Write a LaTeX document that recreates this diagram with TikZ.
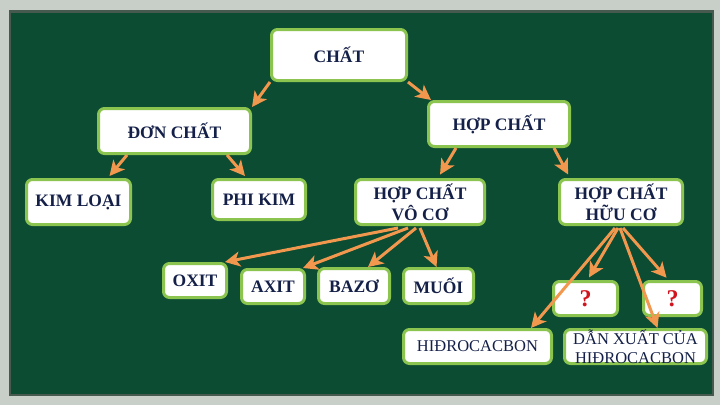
\documentclass[tikz,border=0pt]{standalone}
\usepackage{fontspec}
\setmainfont{Liberation Serif}
\usetikzlibrary{arrows.meta,calc}
\definecolor{board}{RGB}{11,76,50}
\definecolor{frame}{RGB}{200,206,200}
\definecolor{frameedge}{RGB}{70,90,80}
\definecolor{boxgreen}{RGB}{140,196,80}
\definecolor{navy}{RGB}{20,32,72}
\definecolor{arrorange}{RGB}{242,152,78}
\definecolor{qred}{RGB}{210,20,30}
\begin{document}
\begin{tikzpicture}[x=1pt,y=-1pt,
  box/.style={draw=boxgreen, line width=3pt, fill=white, rounded corners=6pt,
    inner sep=0pt, align=center, text=navy, font=\fontsize{17.5}{21}\selectfont\bfseries},
  lbox/.style={box, font=\fontsize{16.5}{19}\selectfont},
  qbox/.style={box, text=qred, font=\fontsize{24}{26}\selectfont\bfseries},
  arr/.style={draw=arrorange, line width=3pt, -{Stealth[length=15pt,width=15pt,inset=4pt]}}]
\useasboundingbox (0,0) rectangle (720,405);
\fill[frame] (0,0) rectangle (720,405);
\fill[frameedge] (9,10) rectangle (714,396);
\fill[board] (11,13) rectangle (712,394);
% nodes
\node[box, minimum width=135pt, minimum height=51pt] (chat) at (339,55) {CHẤT};
\node[box, minimum width=152pt, minimum height=45pt] (don) at (174.5,131) {ĐƠN CHẤT};
\node[box, minimum width=141pt, minimum height=45pt] (hop) at (499,124) {HỢP CHẤT};
\node[box, minimum width=104pt, minimum height=45pt] (kim) at (78.5,202) {KIM LOẠI};
\node[box, minimum width=93pt, minimum height=40pt] (phi) at (259,199.5) {PHI KIM};
\node[box, minimum width=129pt, minimum height=45pt] (voco) at (420,202) {HỢP CHẤT\\VÔ CƠ};
\node[box, minimum width=123pt, minimum height=45pt] (huuco) at (621,202) {HỢP CHẤT\\HỮU CƠ};
\node[box, minimum width=63pt, minimum height=34pt] (oxit) at (195,280.5) {OXIT};
\node[box, minimum width=63pt, minimum height=34pt] (axit) at (273,286.5) {AXIT};
\node[box, minimum width=71pt, minimum height=35pt] (bazo) at (354,286) {BAZƠ};
\node[box, minimum width=70pt, minimum height=35pt] (muoi) at (438.5,286) {MUỐI};
\node[qbox, minimum width=64pt, minimum height=34pt] (q1) at (585.5,298.5) {?};
\node[qbox, minimum width=58pt, minimum height=34pt] (q2) at (672.5,298.5) {?};
\node[lbox, minimum width=148pt, minimum height=34pt] (hidro) at (477.5,346.5) {HIĐROCACBON};
\node[lbox, minimum width=142pt, minimum height=34pt] (dan) at (635.5,346.5) {DẪN XUẤT CỦA\\HIĐROCACBON};
% arrows
\draw[arr] (chat.south west) -- (don.north east);
\draw[arr] (chat.south east) -- ($(hop.north west)+(4,0)$);
\draw[arr] ($(don.south west)+(30,0)$) -- ($(kim.north)+(31,-2)$);
\draw[arr] ($(don.south west)+(130,0)$) -- ($(phi.north)+(-14,-2)$);
\draw[arr, shorten >=4pt] ($(hop.south west)+(29,0)$) -- ($(voco.north)+(18,0)$);
\draw[arr, shorten >=4pt] ($(hop.south east)+(-17,0)$) -- ($(huuco.north)+(-51,0)$);
\draw[arr] ($(voco.south)+(-22,2)$) -- ($(oxit.north east)+(-3,0)$);
\draw[arr] ($(voco.south)+(-12,2)$) -- ($(axit.north east)+(-3,0)$);
\draw[arr] ($(voco.south)+(-4,2)$) -- ($(bazo.north)+(14,0)$);
\draw[arr] ($(voco.south)+(0,2)$) -- ($(muoi.north)+(-2,0)$);
\draw[arr, shorten >=3pt] ($(huuco.south)+(-3,2)$) -- ($(q1.north)+(2,0)$);
\draw[arr, shorten >=3pt] ($(huuco.south)+(2,2)$) -- ($(q2.north)+(-4,0)$);
\draw[arr] ($(huuco.south)+(-6,2)$) -- ($(hidro.north east)+(-22,0)$);
\draw[arr] ($(huuco.south)+(-1,2)$) -- ($(dan.north)+(22,0)$);
\end{tikzpicture}
\end{document}
